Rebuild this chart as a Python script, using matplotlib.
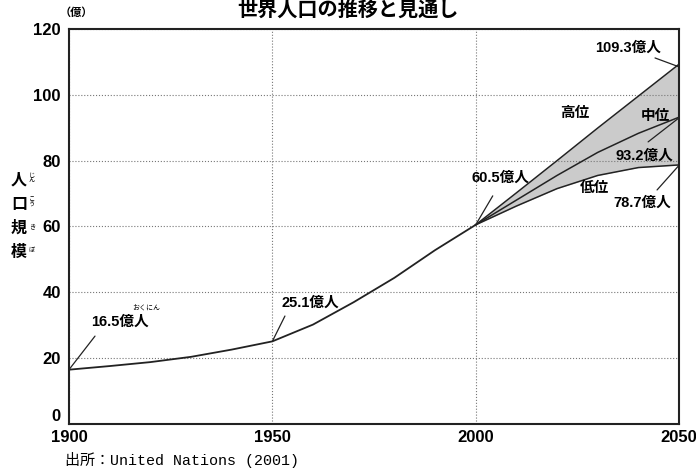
import numpy as np
from matplotlib import pyplot as plt

plt.rcParams['font.family'] = ['Liberation Sans', 'Noto Sans CJK JP']

# 実績 (億人)
years_hist = [1900, 1910, 1920, 1930, 1940, 1950, 1960, 1970, 1980, 1990, 2000]
pop_hist = [16.5, 17.6, 18.8, 20.4, 22.6, 25.1, 30.2, 37.0, 44.4, 52.8, 60.5]

# 将来推計 (億人)
years_proj = [2000, 2010, 2020, 2030, 2040, 2050]
pop_high = [60.5, 70.2, 80.0, 89.9, 99.6, 109.3]
pop_mid = [60.5, 68.0, 75.5, 82.5, 88.3, 93.2]
pop_low = [60.5, 66.2, 71.5, 75.5, 77.9, 78.7]

x_ticks = [1900, 1950, 2000, 2050]
y_ticks = [0, 20, 40, 60, 80, 100, 120]

fig = plt.figure(figsize=(6.96, 4.72), dpi=100)
ax = fig.add_axes([0.0991, 0.1017, 0.8765, 0.8369])

ax.fill_between(years_proj, pop_low, pop_high, color='#cbcbcb', lw=0)
ax.plot(years_hist, pop_hist, color='#222222', lw=1.3)
ax.plot(years_proj, pop_high, color='#222222', lw=1.1)
ax.plot(years_proj, pop_mid, color='#222222', lw=1.1)
ax.plot(years_proj, pop_low, color='#222222', lw=1.1)

ax.set_xlim(1900, 2050)
ax.set_ylim(0, 120)
ax.set_xticks(x_ticks)
ax.set_yticks(y_ticks)
ax.tick_params(length=0, labelsize=12)
ax.tick_params(axis='x', pad=4)
ax.tick_params(axis='y', pad=6)
for lab in ax.get_xticklabels() + ax.get_yticklabels():
    lab.set_fontweight('bold')
ax.get_yticklabels()[0].set_va('bottom')
ax.grid(True, ls=':', color='#777777', lw=0.8)
for s in ax.spines.values():
    s.set_linewidth(1.5)
    s.set_color('#222222')

line_kw = dict(arrowstyle='-', color='#222222', lw=0.9, shrinkA=0, shrinkB=0)
txt_kw = dict(fontsize=10.5, fontweight='bold', ha='center', va='center')

# 注記
ax.annotate('', xy=(1900, 16.5), xytext=(1906.4, 26.7), arrowprops=line_kw)
ax.text(1912.5, 31.0, '16.5億人', **txt_kw)
ax.text(1919.0, 35.2, 'おくにん', fontsize=5, ha='center', va='center')
ax.annotate('', xy=(1950, 25.1), xytext=(1953.1, 32.8), arrowprops=line_kw)
ax.text(1959.3, 36.8, '25.1億人', **txt_kw)
ax.annotate('', xy=(2000, 60.5), xytext=(2004.2, 69.3), arrowprops=line_kw)
ax.text(2006.0, 74.7, '60.5億人', **txt_kw)

ax.annotate('', xy=(2050, 108.5), xytext=(2044.1, 111.2), arrowprops=line_kw)
ax.text(2037.4, 114.2, '109.3億人', **txt_kw)
ax.text(2024.4, 94.5, '高位', **txt_kw)
ax.text(2044.1, 93.6, '中位', **txt_kw)
ax.annotate('', xy=(2050, 93.0), xytext=(2042.4, 85.7), arrowprops=line_kw)
ax.text(2041.4, 81.4, '93.2億人', **txt_kw)
ax.text(2029.3, 71.7, '低位', **txt_kw)
ax.annotate('', xy=(2049.8, 78.3), xytext=(2044.6, 71.1), arrowprops=line_kw)
ax.text(2040.9, 67.1, '78.7億人', **txt_kw)

# タイトル・単位・軸名
fig.text(0.5, 1 - 9 / 472, '世界人口の推移と見通し', fontsize=14.5, fontweight='bold',
         ha='center', va='center', family=['Noto Sans CJK JP'])
fig.text(76 / 696, 1 - 13 / 472, '（億）', fontsize=8, fontweight='bold', ha='center', va='center')
for i, (ch, ruby) in enumerate([('人', 'じ\nん'), ('口', 'こ\nう'), ('規', 'き'), ('模', 'ぼ')]):
    yy = 1 - (180 + i * 24) / 472
    fig.text(19 / 696, yy, ch, fontsize=11.5, fontweight='bold', ha='center', va='center')
    fig.text(32 / 696, yy + 0.004, ruby, fontsize=4.5, ha='center', va='center', linespacing=0.9)
fig.text(65 / 696, 1 - 460 / 472, '出所：United Nations (2001)', fontsize=10.8,
         ha='left', va='center', family=['Liberation Mono', 'Noto Sans CJK JP'])

fig.savefig('out.png', dpi=100)
